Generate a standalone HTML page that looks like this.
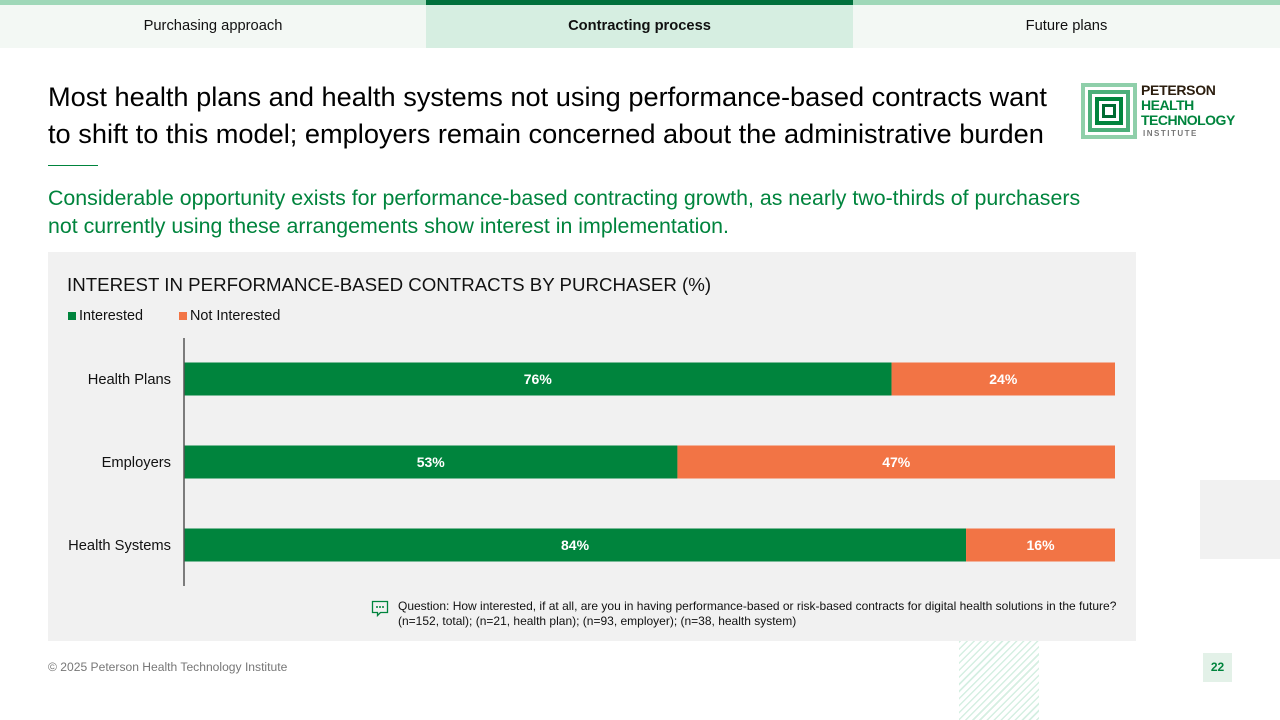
<!DOCTYPE html>
<html><head><meta charset="utf-8"><style>
*{margin:0;padding:0;box-sizing:border-box}
body{width:1280px;height:720px;position:relative;background:#fff;font-family:"Liberation Sans",Arial,sans-serif;overflow:hidden}
.tab{position:absolute;top:0;height:48px;background:#f3f8f4;border-top:5px solid #9fd8b8;font-size:14.7px;text-align:center;line-height:42px;color:#111}
.abs{position:absolute}
</style></head><body>
<div class="tab" style="left:0;width:426px">Purchasing approach</div>
<div class="tab" style="left:426px;width:427px;background:#d6eee1;border-top-color:#00703c;font-weight:bold">Contracting process</div>
<div class="tab" style="left:853px;width:427px">Future plans</div>

<div class="abs" style="left:48px;top:78px;width:1022px;font-size:27.2px;line-height:37px;color:#000">Most health plans and health systems not using performance-based contracts want to shift to this model; employers remain concerned about the administrative burden</div>
<div class="abs" style="left:48px;top:165px;width:50px;height:1px;background:#00843d"></div>
<div class="abs" style="left:48px;top:184px;width:1060px;font-size:21.35px;line-height:28px;color:#00843d">Considerable opportunity exists for performance-based contracting growth, as nearly two-thirds of purchasers not currently using these arrangements show interest in implementation.</div>

<div class="abs" style="left:1081px;top:83px;width:160px;height:56px">
<svg width="56" height="56" style="position:absolute;left:0;top:0">
<rect x="0" y="0" width="56" height="56" fill="#8fcfaa"/><rect x="4" y="4" width="48" height="48" fill="#fff"/>
<rect x="7" y="7" width="42" height="42" fill="#4caf7a"/><rect x="11" y="11" width="34" height="34" fill="#fff"/>
<rect x="14" y="14" width="28" height="28" fill="#00843d"/><rect x="18" y="18" width="20" height="20" fill="#fff"/>
<rect x="21" y="21" width="14" height="14" fill="#006b32"/><rect x="24" y="24" width="8" height="8" fill="#fff"/>
</svg>
<div class="abs" style="left:60px;top:0;font-weight:bold;font-size:14px;line-height:15px;color:#2b1d0e;letter-spacing:-0.3px">PETERSON</div>
<div class="abs" style="left:60px;top:15px;font-weight:bold;font-size:14px;line-height:15px;color:#00843d;letter-spacing:-0.5px">HEALTH<br>TECHNOLOGY</div>
<div class="abs" style="left:62px;top:46px;font-weight:bold;font-size:8px;letter-spacing:1.5px;color:#777">INSTITUTE</div>
</div>

<div class="abs" style="left:48px;top:252px;width:1088px;height:389px;background:#f1f1f1"></div>
<div class="abs" style="left:67px;top:274px;font-size:18.7px;color:#111">INTEREST IN PERFORMANCE-BASED CONTRACTS BY PURCHASER (%)</div>
<div class="abs" style="left:68px;top:308px;font-size:14.4px;color:#111"><span style="display:inline-block;width:8px;height:8px;background:#00843d;margin-right:3px"></span>Interested</div>
<div class="abs" style="left:179px;top:308px;font-size:14.4px;color:#111"><span style="display:inline-block;width:8px;height:8px;background:#f27445;margin-right:3px"></span>Not Interested</div>

<svg id="chart" class="abs" style="left:0;top:0" width="1280" height="720"></svg>

<div class="abs" style="left:371px;top:600px">
<svg width="18" height="18"><path d="M1.5 1.5h15v11h-7l-3 3v-3h-5z" fill="none" stroke="#00843d" stroke-width="1.3"/><circle cx="6" cy="7" r="1" fill="#00843d"/><circle cx="9" cy="7" r="1" fill="#00843d"/><circle cx="12" cy="7" r="1" fill="#00843d"/></svg></div>
<div class="abs" style="left:398px;top:599px;font-size:12px;line-height:15px;color:#111;white-space:nowrap">Question: How interested, if at all, are you in having performance-based or risk-based contracts for digital health solutions in the future?<br>(n=152, total); (n=21, health plan); (n=93, employer); (n=38, health system)</div>

<div class="abs" style="left:1200px;top:480px;width:80px;height:79px;background:#f1f1f1"></div>
<div class="abs" style="left:959px;top:641px;width:80px;height:79px;background:repeating-linear-gradient(135deg,#d5efe2 0 1.5px,#fff 1.5px 5px)"></div>
<div class="abs" style="left:48px;top:660px;font-size:12.1px;color:#777">© 2025 Peterson Health Technology Institute</div>
<div class="abs" style="left:1203px;top:653px;width:29px;height:29px;background:#e3f1e8;color:#00843d;font-weight:bold;font-size:12px;text-align:center;line-height:29px">22</div>

<script>
const categories=["Health Plans","Employers","Health Systems"];
const interested=[76,53,84];
const notInterested=[24,47,16];
const svg=document.getElementById('chart');
const NS='http://www.w3.org/2000/svg';
const x0=184,x1=1115,yTop=338,band=83,barH=33;
const xs=v=>x0+(x1-x0)*v/100;
const yc=i=>yTop+41+i*band;
function mk(t,a){const e=document.createElementNS(NS,t);for(const k in a)e.setAttribute(k,a[k]);svg.appendChild(e);return e;}
categories.forEach((c,i)=>{
  const y=yc(i)-barH/2;
  const g=mk('rect',{x:xs(0),y:y,width:xs(interested[i])-xs(0),height:barH,fill:'#00843d'});
  
  
  const o=mk('rect',{x:xs(interested[i]),y:y,width:xs(interested[i]+notInterested[i])-xs(interested[i]),height:barH,fill:'#f27445'});
  
  
  const t1=mk('text',{x:(xs(0)+xs(interested[i]))/2,y:yc(i)+5,'text-anchor':'middle','font-size':14,'font-weight':'bold',fill:'#fff','font-family':'Liberation Sans'});
  t1.textContent=interested[i]+'%';
  
  
  const t2=mk('text',{x:(xs(interested[i])+xs(interested[i]+notInterested[i]))/2,y:yc(i)+5,'text-anchor':'middle','font-size':14,'font-weight':'bold',fill:'#fff','font-family':'Liberation Sans'});
  t2.textContent=notInterested[i]+'%';
  
  
  const l=mk('text',{x:171,y:yc(i)+5,'text-anchor':'end','font-size':14.7,fill:'#111','font-family':'Liberation Sans'});
  l.textContent=c;
  
  
});
const ax=mk('line',{x1:x0,x2:x0,y1:yTop,y2:yTop+band*categories.length-1,stroke:'#555','stroke-width':1.5});


</script>
</body></html>
